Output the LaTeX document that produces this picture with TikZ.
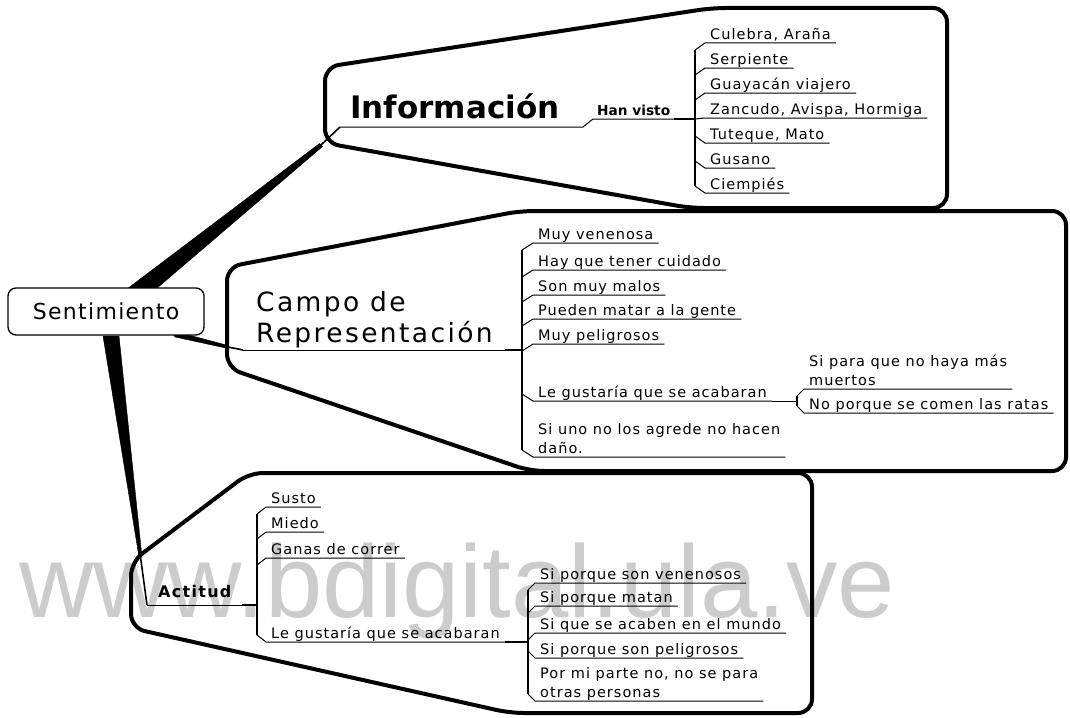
\documentclass[tikz,border=0pt]{standalone}
\usepackage{fontspec}
\setmainfont{DejaVu Sans}
\newfontfamily\dvs[LetterSpace=7]{DejaVu Sans}
\newfontfamily\dvc[LetterSpace=9]{DejaVu Sans}
\newfontfamily\dvm[LetterSpace=6]{DejaVu Sans}
\newfontfamily\dvn{DejaVu Sans}
\newfontfamily\dva[LetterSpace=8]{DejaVu Sans}
\newfontfamily\wmf{Liberation Sans}
\newcommand\twol[2]{\begin{tabular}[b]{@{}l@{}}#1\\#2\end{tabular}}
\begin{document}
\begin{tikzpicture}[x=1pt,y=-1pt,
 kid/.style={anchor=south west, inner xsep=5pt, inner ysep=0pt, text depth=3.5pt, font=\dvs\fontsize{14.5}{19}\selectfont},
 ln/.style={line width=1pt},
 barl/.style={line width=1.3pt},
 jn/.style={line width=2.6pt},
 thinb/.style={line width=1.6pt},
 bubble/.style={line width=4pt, rounded corners=14pt},
 branch/.style={fill=black, draw=black, line width=0.4pt, line join=round},
]
\useasboundingbox (0,0) rectangle (1070,717);

% watermark
\node[anchor=base west, inner sep=0, text=black!20, font=\wmf\fontsize{103}{103}\selectfont] (wm) at (19,617) {www.bdigital.ula.ve};

% tapered branches from the central topic
\coordinate (infoTip) at (321,145);
\coordinate (campoTip) at (228,347);
\coordinate (actTip) at (140.5,557);
\filldraw[branch] (127,289) -- (319.5,143.5) -- (322.5,146.5) -- (156,289) -- cycle;
\filldraw[branch] (170,330) -- (228,345.5) -- (228,348.5) -- (175,337) -- cycle;
\filldraw[branch] (103,336) -- (139,557) -- (142,557) -- (119,336) -- cycle;

% central topic
\node[draw, line width=1.3pt, rounded corners=8pt, fill=white, minimum width=196pt, minimum height=47pt, inner sep=0pt, font=\dvm\fontsize{22}{24}\selectfont] (sent) at (106,311.5) {Sentimiento};

% bubbles
\draw[bubble] (325,105) -- (325,67) -- (712,8) -- (947,8) -- (947,208) -- (690,208) -- (325,143) -- cycle;
\draw[bubble] (227,320) -- (227,267) -- (520,211) -- (1066,211) -- (1066,471) -- (530,471) -- (227,368) -- cycle;
\draw[bubble] (131,595) -- (131,562) -- (249,473) -- (812,473) -- (812,713) -- (510,713) -- (131,628) -- cycle;

% ---------- Informacion ----------
\node[anchor=base west, inner sep=0, font=\dvn\bfseries\fontsize{31}{36}\selectfont] (info) at (350,118) {Información};
\coordinate (infoL) at (340,127);
\coordinate (infoJ) at (583,127);
\node[kid, inner xsep=4pt, font=\dvn\bfseries\fontsize{13.7}{16}\selectfont] (hv) at (593,119) {Han visto};
\coordinate (hvJ) at (695,119);
\draw[thinb] (infoTip) -- (infoL);
\draw[ln] (infoL) -- (infoJ) -- (hv.south west) -- (hv.south east);
\draw[jn] (hv.south east) -- (hvJ);

\node[kid] (i1) at (705,43) {Culebra, Araña};
\node[kid] (i2) at (705,68) {Serpiente};
\node[kid] (i3) at (705,93) {Guayacán viajero};
\node[kid] (i4) at (705,118) {Zancudo, Avispa, Hormiga};
\node[kid] (i5) at (705,143) {Tuteque, Mato};
\node[kid] (i6) at (705,168) {Gusano};
\node[kid] (i7) at (705,193) {Ciempiés};
\draw[barl] ([shift={(-10,7)}]i1.south west) -- ([shift={(-10,-7)}]i7.south west);
\foreach \n in {i1,i2,i3} \draw[ln] (\n.south east) -- (\n.south west) -- ++(-10,7);
\draw[ln] (i4.south east) -- (i4.south west) -- (hvJ);
\foreach \n in {i5,i6,i7} \draw[ln] (\n.south east) -- (\n.south west) -- ++(-10,-7);

% ---------- Campo de Representacion ----------
\node[anchor=south west, inner sep=0pt, text depth=7pt, font=\dvc\fontsize{26.5}{31}\selectfont] (campo) at (256,350) {\twol{Campo de}{Representación}};
\coordinate (campoL) at (243,350);
\coordinate (campoJ0) at (505,350);
\coordinate (campoJ) at (522,350);
\draw[thinb] (campoTip) -- (campoL);
\draw[ln] (campoL) -- (campoJ0);
\draw[jn] (campoJ0) -- (campoJ);

\node[kid] (c1) at (533,243) {Muy venenosa};
\node[kid] (c2) at (533,270) {Hay que tener cuidado};
\node[kid] (c3) at (533,295) {Son muy malos};
\node[kid] (c4) at (533,319) {Pueden matar a la gente};
\node[kid] (c5) at (533,344) {Muy peligrosos};
\node[kid] (c6) at (533,401) {Le gustaría que se acabaran};
\node[kid] (c7) at (533,457) {\twol{Si uno no los agrede no hacen}{daño.}};
\draw[barl] ([shift={(-11,7)}]c1.south west) -- ([shift={(-11,-7)}]c7.south west);
\foreach \n in {c1,c2,c3,c4,c5} \draw[ln] (\n.south east) -- (\n.south west) -- ++(-11,7);
\foreach \n in {c6,c7} \draw[ln] (\n.south east) -- (\n.south west) -- ++(-11,-7);

\coordinate (c6J) at (797,401);
\draw[ln] (c6.south east) -- (c6J);
\node[kid] (cs1) at (804,389) {\twol{Si para que no haya más}{muertos}};
\node[kid] (cs2) at (804,413) {No porque se comen las ratas};
\draw[barl] ([shift={(-7,7)}]cs1.south west) -- ([shift={(-7,-7)}]cs2.south west);
\draw[ln] (cs1.south east) -- (cs1.south west) -- ++(-7,7);
\draw[ln] (cs2.south east) -- (cs2.south west) -- ++(-7,-7);

% ---------- Actitud ----------
\node[anchor=base west, inner sep=0, font=\dva\bfseries\fontsize{16}{19}\selectfont] (act) at (158,597) {Actitud};
\coordinate (actL) at (147,605);
\coordinate (actJ0) at (242,605);
\coordinate (actJ) at (257,605);
\draw[thinb] (actTip) -- (actL);
\draw[ln] (actL) -- (actJ0);
\draw[jn] (actJ0) -- (actJ);

\node[kid] (a1) at (266,507) {Susto};
\node[kid] (a2) at (266,532) {Miedo};
\node[kid] (a3) at (266,558) {Ganas de correr};
\node[kid] (a4) at (266,642) {Le gustaría que se acabaran};
\draw[barl] ([shift={(-9,7)}]a1.south west) -- ([shift={(-9,-7)}]a4.south west);
\foreach \n in {a1,a2,a3} \draw[ln] (\n.south east) -- (\n.south west) -- ++(-9,7);
\draw[ln] (a4.south east) -- (a4.south west) -- ++(-9,-7);

\coordinate (a4J) at (528,642);
\draw[jn] (a4.south east) -- (a4J);
\node[kid] (as1) at (535,583) {Si porque son venenosos};
\node[kid] (as2) at (535,606) {Si porque matan};
\node[kid] (as3) at (535,633) {Si que se acaben en el mundo};
\node[kid] (as4) at (535,658) {Si porque son peligrosos};
\node[kid] (as5) at (535,701) {\twol{Por mi parte no, no se para}{otras personas}};
\draw[barl] ([shift={(-7,7)}]as1.south west) -- ([shift={(-7,-7)}]as5.south west);
\foreach \n in {as1,as2,as3} \draw[ln] (\n.south east) -- (\n.south west) -- ++(-7,7);
\foreach \n in {as4,as5} \draw[ln] (\n.south east) -- (\n.south west) -- ++(-7,-7);
\end{tikzpicture}
\end{document}
